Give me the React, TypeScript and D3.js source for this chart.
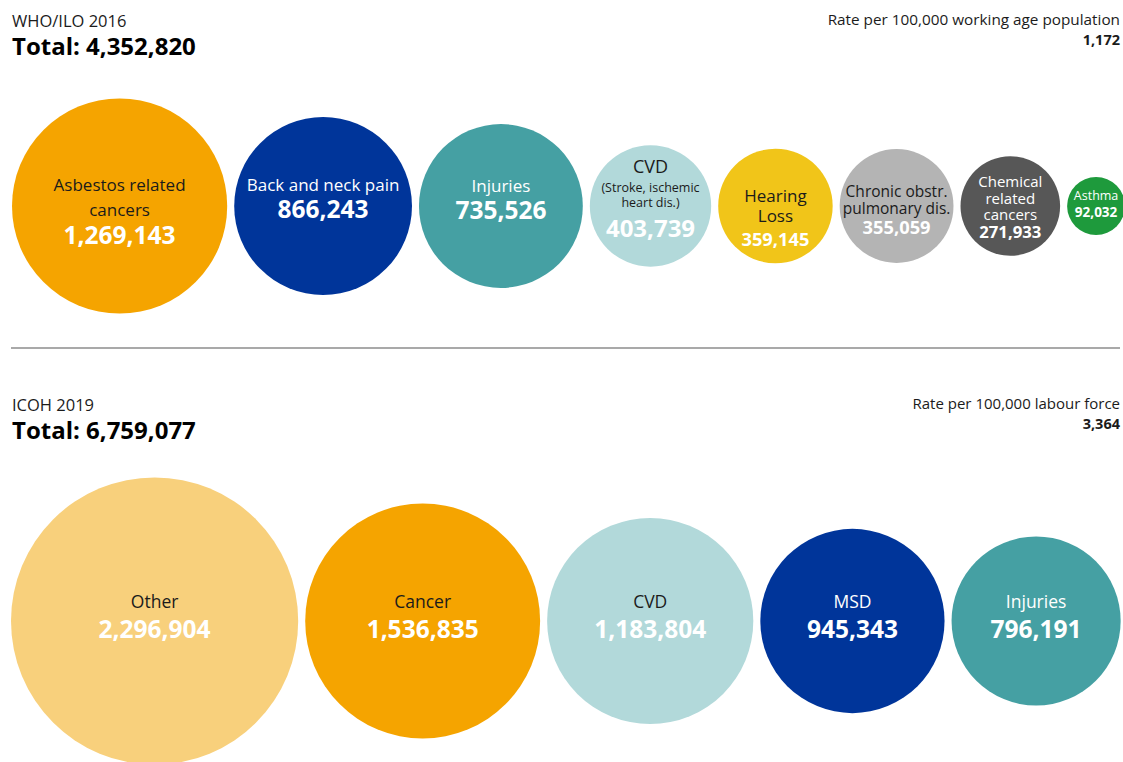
import React from "react";
import * as d3 from "d3";

// ---- Data ----
const whoCategories = [
  "Asbestos related cancers",
  "Back and neck pain",
  "Injuries",
  "CVD (Stroke, ischemic heart dis.)",
  "Hearing Loss",
  "Chronic obstr. pulmonary dis.",
  "Chemical related cancers",
  "Asthma",
];
const whoLabelLines = [
  ["Asbestos related", "cancers"],
  ["Back and neck pain"],
  ["Injuries"],
  ["CVD", "(Stroke, ischemic", "heart dis.)"],
  ["Hearing", "Loss"],
  ["Chronic obstr.", "pulmonary dis."],
  ["Chemical", "related", "cancers"],
  ["Asthma"],
];
const whoValues = [1269143, 866243, 735526, 403739, 359145, 355059, 271933, 92032];
const whoColors = ["#F5A400", "#00359A", "#45A0A3", "#B2D9DA", "#F1C519", "#B4B4B4", "#575757", "#1E9A3C"];
const whoTitle = "WHO/ILO 2016";
const whoTotal = 4352820;
const whoRateLabel = "Rate per 100,000 working age population";
const whoRate = 1172;

const icohCategories = ["Other", "Cancer", "CVD", "MSD", "Injuries"];
const icohValues = [2296904, 1536835, 1183804, 945343, 796191];
const icohColors = ["#F8D07C", "#F5A400", "#B2D9DA", "#00359A", "#45A0A3"];
const icohTitle = "ICOH 2019";
const icohTotal = 6759077;
const icohRateLabel = "Rate per 100,000 labour force";
const icohRate = 3364;

// ---- Styling of labels (relative to circle centre) ----
const DARK = "#1b1b1b";
const WHITE = "#ffffff";
type LineStyle = { size: number; dy: number; color: string; weight: number };
const whoLabelStyles: LineStyle[][] = [
  [
    { size: 17, dy: -15, color: DARK, weight: 400 },
    { size: 17, dy: 10, color: DARK, weight: 400 },
  ],
  [{ size: 17, dy: -15, color: WHITE, weight: 400 }],
  [{ size: 17, dy: -14, color: WHITE, weight: 400 }],
  [
    { size: 18, dy: -33, color: DARK, weight: 400 },
    { size: 12.5, dy: -14.5, color: DARK, weight: 400 },
    { size: 12.5, dy: 1, color: DARK, weight: 400 },
  ],
  [
    { size: 17, dy: -4.5, color: DARK, weight: 400 },
    { size: 17, dy: 15.5, color: DARK, weight: 400 },
  ],
  [
    { size: 15.5, dy: -9.5, color: DARK, weight: 400 },
    { size: 15.5, dy: 8, color: DARK, weight: 400 },
  ],
  [
    { size: 15, dy: -19.5, color: WHITE, weight: 400 },
    { size: 15, dy: -2.5, color: WHITE, weight: 400 },
    { size: 15, dy: 14, color: WHITE, weight: 400 },
  ],
  [{ size: 12.5, dy: -6, color: WHITE, weight: 400 }],
];
const whoValueStyles: LineStyle[] = [
  { size: 24.5, dy: 38, color: WHITE, weight: 700 },
  { size: 24.5, dy: 12, color: WHITE, weight: 700 },
  { size: 24.5, dy: 13, color: WHITE, weight: 700 },
  { size: 24, dy: 31, color: WHITE, weight: 700 },
  { size: 18.3, dy: 40, color: WHITE, weight: 700 },
  { size: 18.3, dy: 28, color: WHITE, weight: 700 },
  { size: 16.7, dy: 31.5, color: WHITE, weight: 700 },
  { size: 13.5, dy: 10.5, color: WHITE, weight: 700 },
];
const icohLabelColors = [DARK, DARK, DARK, WHITE, WHITE];

const FONT = "'Open Sans', 'Noto Sans', sans-serif";
const fmt = d3.format(",");

const W = 1123;
const H = 762;

function layoutRow(values: number[], r: d3.ScalePower<number, number>, x0: number, gap: number) {
  let x = x0;
  return values.map((v) => {
    const rad = r(v);
    const cx = x + rad;
    x += 2 * rad + gap;
    return { cx, r: rad };
  });
}

export default function App() {
  const rTop = d3.scaleSqrt().domain([0, d3.max(whoValues) as number]).range([0, 107.6]);
  const rBot = d3.scaleSqrt().domain([0, d3.max(icohValues) as number]).range([0, 143.6]);

  const topY = 206;
  const botY = 621;
  const top = layoutRow(whoValues, rTop, 12, 7);
  const bot = layoutRow(icohValues, rBot, 11, 7);

  return (
    <svg
      width={W}
      height={H}
      viewBox={`0 0 ${W} ${H}`}
      style={{ position: "absolute", left: 0, top: 0, background: "#fff" }}
      fontFamily={FONT}
    >
      <rect x={0} y={0} width={W} height={H} fill="#fff" />
      {/* Top header */}
      <text x={12} y={27} fontSize={16.5} fill="#1b1b1b">{whoTitle}</text>
      <text x={12} y={55} fontSize={24} fontWeight={700} fill="#000">{`Total: ${fmt(whoTotal)}`}</text>
      <text x={1120} y={25} fontSize={15.3} textAnchor="end" fill="#1b1b1b">{whoRateLabel}</text>
      <text x={1120} y={45} fontSize={14.5} fontWeight={700} textAnchor="end" fill="#1b1b1b">{fmt(whoRate)}</text>

      {/* Top circles */}
      {top.map((c, i) => (
        <g key={whoCategories[i]}>
          <circle cx={c.cx} cy={topY} r={c.r} fill={whoColors[i]} />
          {whoLabelLines[i].map((line, j) => {
            const s = whoLabelStyles[i][j];
            return (
              <text
                key={j}
                x={c.cx}
                y={topY + s.dy}
                fontSize={s.size}
                fontWeight={s.weight}
                fill={s.color}
                textAnchor="middle"
              >
                {line}
              </text>
            );
          })}
          <text
            x={c.cx}
            y={topY + whoValueStyles[i].dy}
            fontSize={whoValueStyles[i].size}
            fontWeight={whoValueStyles[i].weight}
            fill={whoValueStyles[i].color}
            textAnchor="middle"
          >
            {fmt(whoValues[i])}
          </text>
        </g>
      ))}

      {/* Divider */}
      <line x1={11} x2={1120} y1={348} y2={348} stroke="#8c8c8c" strokeWidth={1.6} />

      {/* Bottom header */}
      <text x={12} y={411} fontSize={16.5} fill="#1b1b1b">{icohTitle}</text>
      <text x={12} y={439} fontSize={24} fontWeight={700} fill="#000">{`Total: ${fmt(icohTotal)}`}</text>
      <text x={1120} y={409} fontSize={15} textAnchor="end" fill="#1b1b1b">{icohRateLabel}</text>
      <text x={1120} y={429} fontSize={14.5} fontWeight={700} textAnchor="end" fill="#1b1b1b">{fmt(icohRate)}</text>

      {/* Bottom circles */}
      {bot.map((c, i) => (
        <g key={icohCategories[i]}>
          <circle cx={c.cx} cy={botY} r={c.r} fill={icohColors[i]} />
          <text x={c.cx} y={botY - 13} fontSize={17.5} fill={icohLabelColors[i]} textAnchor="middle">
            {icohCategories[i]}
          </text>
          <text x={c.cx} y={botY + 17} fontSize={24.5} fontWeight={700} fill={WHITE} textAnchor="middle">
            {fmt(icohValues[i])}
          </text>
        </g>
      ))}
    </svg>
  );
}
